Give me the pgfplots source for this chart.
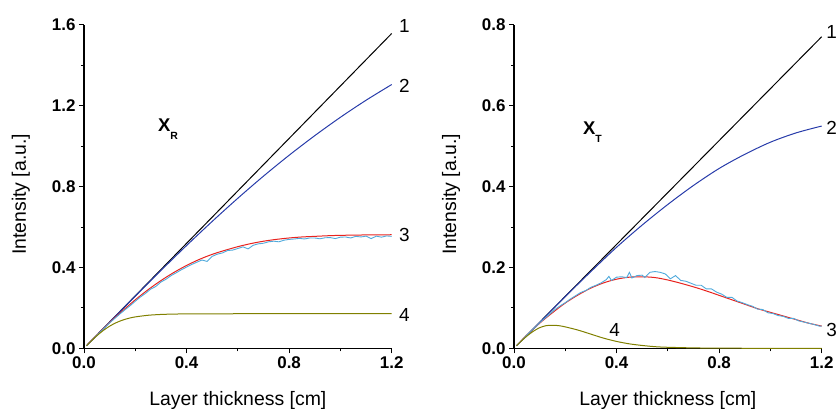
\documentclass[border=0pt]{standalone}
\usepackage{pgfplots}
\pgfplotsset{compat=1.18}
\usepackage{fontspec}
\setmainfont{Liberation Sans}

\definecolor{cLin}{RGB}{0,0,0}
\definecolor{cTwo}{RGB}{40,60,170}
\definecolor{cFit}{RGB}{232,35,30}
\definecolor{cMeas}{RGB}{80,170,220}
\definecolor{cFour}{RGB}{128,128,0}

\tikzset{numlab/.style={inner sep=0pt, font=\fontsize{19}{19}\selectfont}}

\pgfplotsset{
  panel/.style={
    scale only axis, width=307.7bp, height=323.3bp,
    anchor=south west, clip=false,
    xmin=0, xmax=1.2, enlargelimits=false,
    axis lines=left, axis line style={-, line width=1.1bp},
    tick align=outside, major tick length=5bp, minor tick length=3bp,
    tick style={line width=1bp, black},
    xtick={0,0.4,0.8,1.2}, minor x tick num=1, minor y tick num=1,
    ticklabel style={font=\fontsize{17}{17}\selectfont\bfseries},
    xticklabel style={/pgf/number format/assume math mode=true,
      /pgf/number format/fixed, /pgf/number format/fixed zerofill,
      /pgf/number format/precision=1},
    yticklabel style={/pgf/number format/assume math mode=true,
      /pgf/number format/fixed, /pgf/number format/fixed zerofill,
      /pgf/number format/precision=1},
    label style={font=\fontsize{19.5}{19.5}\selectfont},
    xlabel style={at={(axis description cs:0.5,-0.1754)}, anchor=base},
    ylabel style={at={(axis description cs:-0.1885,0.476)}, anchor=base},
    xlabel={Layer thickness [cm]},
    ylabel={Intensity [a.u.]},
    every axis plot/.append style={line width=1bp},
  },
}

\begin{document}
\begin{tikzpicture}
\useasboundingbox (0,0) rectangle (839bp,409bp);

% ---------------- reflected intensity X_R ----------------
\begin{axis}[panel, at={(84bp,60.7bp)}, ymin=0, ymax=1.6,
  ytick={0,0.4,0.8,1.2,1.6}]
\addplot[cLin] coordinates {(0.01,0.013) (1.2,1.558)};
\addplot[cTwo, smooth] coordinates {
  (0.01,0.013) (0.1,0.1298) (0.2,0.2585) (0.3,0.3851) (0.4,0.5086)
  (0.5,0.6280) (0.6,0.7427) (0.7,0.8521) (0.8,0.9554) (0.9,1.0524)
  (1.0,1.1433) (1.1,1.2276) (1.2,1.3054)};
\addplot[cFit, smooth] coordinates {
  (0.01,0.013) (0.05,0.065) (0.1,0.128) (0.15,0.185) (0.2,0.24)
  (0.25,0.29) (0.3,0.335) (0.35,0.375) (0.4,0.41) (0.45,0.44)
  (0.5,0.465) (0.55,0.485) (0.6,0.503) (0.65,0.518) (0.7,0.53)
  (0.75,0.539) (0.8,0.546) (0.85,0.551) (0.9,0.554) (0.95,0.557)
  (1.0,0.559) (1.1,0.561) (1.2,0.562)};
\addplot[cMeas, line width=0.9bp] coordinates {
  (0.01,0.013) (0.05,0.064) (0.10,0.126) (0.12,0.148) (0.14,0.170)
  (0.16,0.191) (0.18,0.211) (0.20,0.233) (0.22,0.254) (0.24,0.272)
  (0.26,0.293) (0.28,0.306) (0.30,0.328) (0.32,0.342) (0.34,0.360)
  (0.36,0.374) (0.38,0.389) (0.40,0.402) (0.42,0.415) (0.44,0.426)
  (0.46,0.437) (0.48,0.430) (0.50,0.455) (0.52,0.466) (0.54,0.472)
  (0.56,0.484) (0.58,0.486) (0.60,0.494) (0.62,0.502) (0.64,0.492)
  (0.66,0.510) (0.68,0.517) (0.70,0.520) (0.72,0.527) (0.74,0.530)
  (0.76,0.527) (0.78,0.535) (0.80,0.539) (0.82,0.541) (0.84,0.544)
  (0.86,0.541) (0.88,0.546) (0.90,0.546) (0.92,0.542) (0.94,0.547)
  (0.96,0.548) (0.98,0.543) (1.00,0.550) (1.02,0.551) (1.04,0.546)
  (1.06,0.554) (1.08,0.551) (1.10,0.555) (1.12,0.543) (1.14,0.555)
  (1.16,0.550) (1.18,0.556) (1.20,0.554)};
\addplot[cFour, smooth] coordinates {
  (0.01,0.013) (0.025,0.0321) (0.05,0.062) (0.075,0.0881) (0.1,0.1096)
  (0.125,0.1265) (0.15,0.1393) (0.175,0.1487) (0.2,0.1554) (0.25,0.1635)
  (0.3,0.1675) (0.35,0.1694) (0.4,0.1702) (0.5,0.1708) (0.6,0.171)
  (0.8,0.171) (1.0,0.171) (1.2,0.171)};
\node[numlab, anchor=west] at (axis cs:1.2285,1.596) {1};
\node[numlab, anchor=west] at (axis cs:1.2285,1.298) {2};
\node[numlab, anchor=west] at (axis cs:1.2285,0.563) {3};
\node[numlab, anchor=west] at (axis cs:1.2285,0.167) {4};
\node[inner sep=0pt, anchor=base west, font=\fontsize{18.5}{18.5}\selectfont\bfseries]
  at (axis cs:0.2886,1.0708) {X\raisebox{-8bp}{\fontsize{10.5}{10.5}\selectfont R}};
\end{axis}

% ---------------- transmitted intensity X_T ----------------
\begin{axis}[panel, at={(514bp,60.7bp)}, ymin=0, ymax=0.8,
  ytick={0,0.2,0.4,0.6,0.8}]
\addplot[cLin] coordinates {(0.01,0.0064) (1.2,0.771)};
\addplot[cTwo, smooth] coordinates {
  (0.01,0.0064) (0.1,0.064) (0.2,0.128) (0.3,0.19) (0.4,0.25)
  (0.5,0.305) (0.6,0.356) (0.7,0.403) (0.8,0.445) (0.9,0.48)
  (1.0,0.51) (1.1,0.533) (1.2,0.55)};
\addplot[cFit, smooth] coordinates {
  (0.01,0.0064) (0.05,0.032) (0.1,0.062) (0.15,0.088) (0.2,0.112)
  (0.25,0.132) (0.3,0.149) (0.35,0.162) (0.4,0.171) (0.45,0.176)
  (0.5,0.177) (0.55,0.175) (0.6,0.169) (0.65,0.161) (0.7,0.152)
  (0.75,0.142) (0.8,0.131) (0.85,0.12) (0.9,0.109) (0.95,0.098)
  (1.0,0.089) (1.05,0.08) (1.1,0.071) (1.15,0.062) (1.2,0.055)};
\addplot[cMeas, line width=0.9bp] coordinates {
  (0.01,0.0064) (0.05,0.032) (0.10,0.063) (0.12,0.074) (0.14,0.085)
  (0.16,0.096) (0.18,0.105) (0.20,0.113) (0.22,0.122) (0.24,0.130)
  (0.26,0.138) (0.28,0.143) (0.30,0.151) (0.32,0.156) (0.34,0.162)
  (0.36,0.170) (0.37,0.178) (0.38,0.168) (0.40,0.176) (0.42,0.177)
  (0.44,0.175) (0.45,0.188) (0.46,0.174) (0.48,0.180) (0.50,0.181)
  (0.51,0.175) (0.53,0.188) (0.55,0.190) (0.57,0.188) (0.59,0.184)
  (0.61,0.172) (0.63,0.180) (0.65,0.168) (0.67,0.166) (0.69,0.161)
  (0.71,0.156) (0.73,0.156) (0.75,0.147) (0.77,0.147) (0.79,0.139)
  (0.81,0.134) (0.83,0.126) (0.85,0.126) (0.87,0.117) (0.89,0.113)
  (0.91,0.108) (0.93,0.104) (0.95,0.097) (0.97,0.096) (0.99,0.088)
  (1.01,0.086) (1.03,0.081) (1.05,0.079) (1.07,0.074) (1.09,0.074)
  (1.11,0.068) (1.13,0.065) (1.15,0.062) (1.17,0.059) (1.19,0.055)
  (1.20,0.055)};
\addplot[cFour, smooth] coordinates {
  (0.01,0.0064) (0.025,0.016) (0.05,0.03) (0.075,0.042) (0.1,0.051)
  (0.125,0.056) (0.15,0.057) (0.175,0.056) (0.2,0.053) (0.25,0.045)
  (0.3,0.035) (0.35,0.025) (0.4,0.017) (0.45,0.011) (0.5,0.007)
  (0.55,0.004) (0.6,0.0025) (0.7,0.001) (0.8,0.0003) (1.0,0) (1.2,0)};
\node[numlab, anchor=west] at (axis cs:1.217,0.782) {1};
\node[numlab, anchor=west] at (axis cs:1.217,0.546) {2};
\node[numlab, anchor=west] at (axis cs:1.217,0.046) {3};
\node[numlab] at (axis cs:0.392,0.045) {4};
\node[inner sep=0pt, anchor=base west, font=\fontsize{18.5}{18.5}\selectfont\bfseries]
  at (axis cs:0.269,0.528) {X\raisebox{-8bp}{\fontsize{10.5}{10.5}\selectfont T}};
\end{axis}
\end{tikzpicture}
\end{document}
